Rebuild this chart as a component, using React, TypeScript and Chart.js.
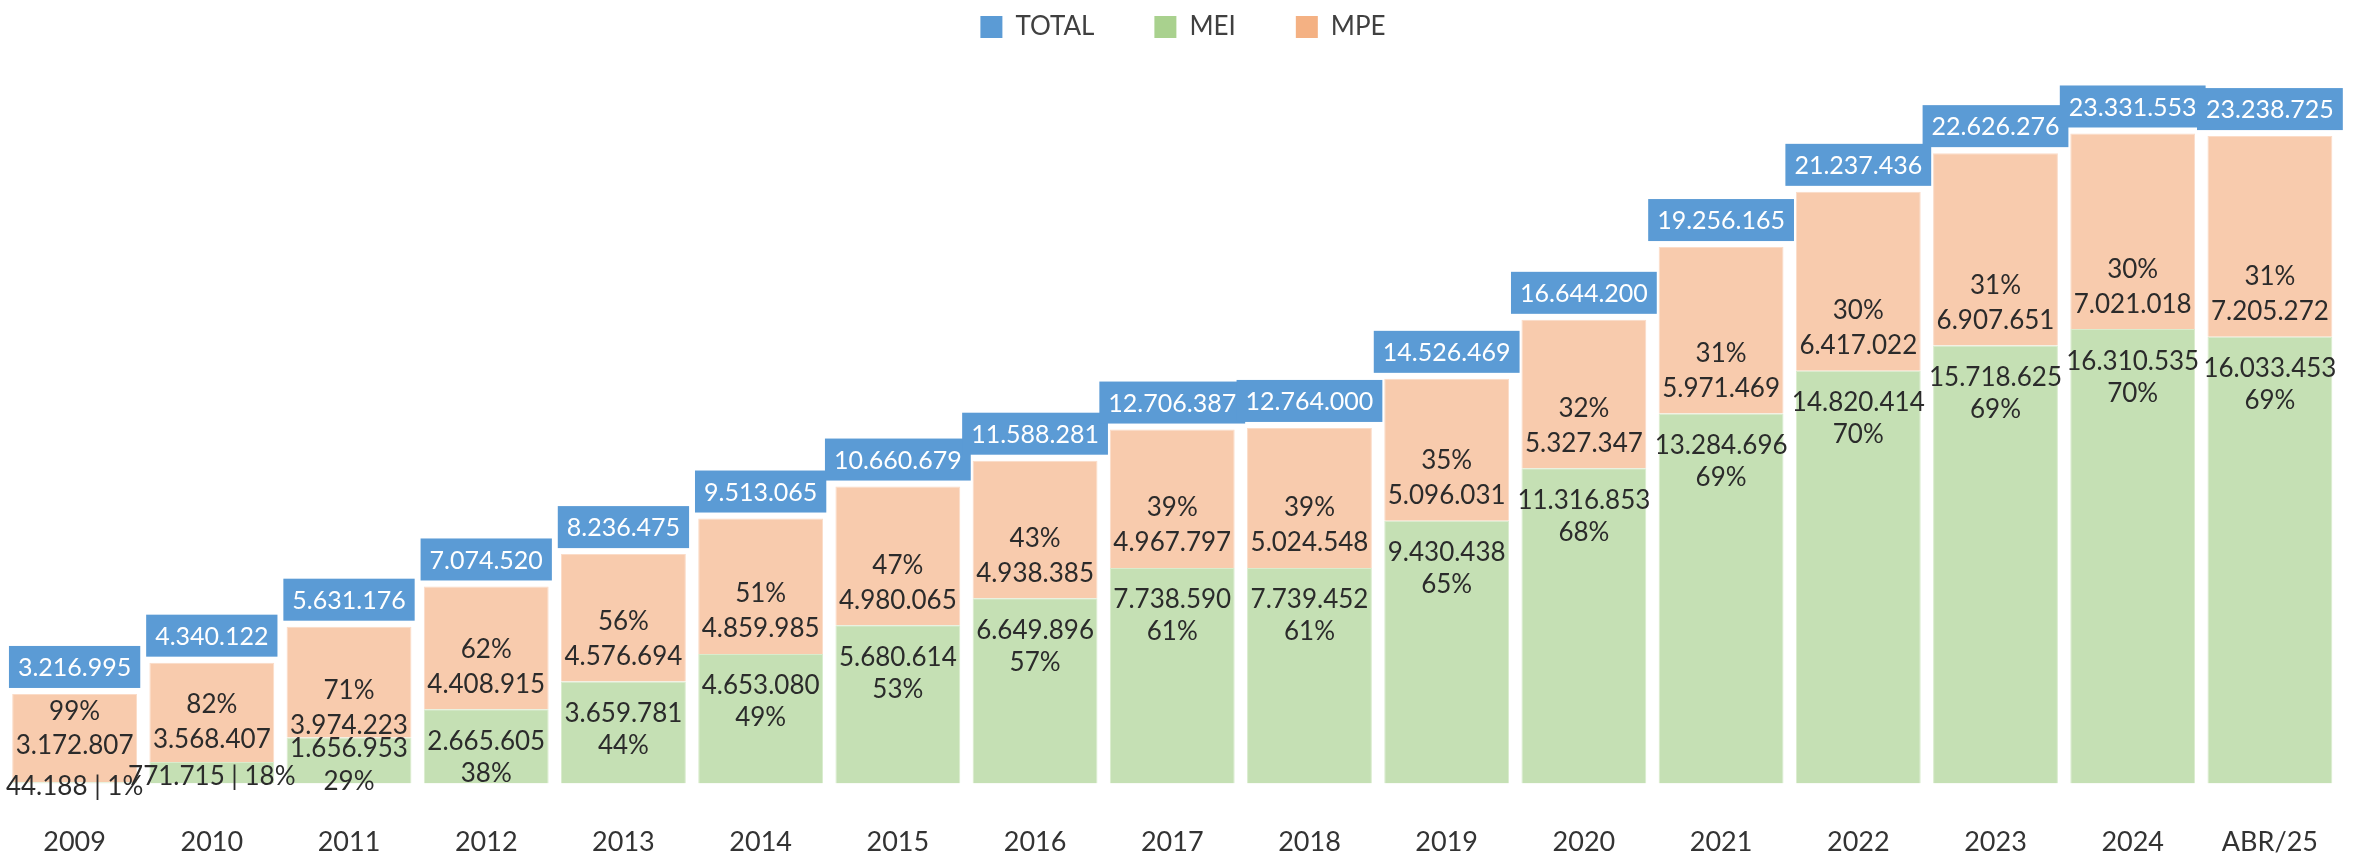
import React, { useEffect, useRef } from "react";
import { Chart, registerables } from "chart.js";

Chart.register(...registerables);

const categories = ["2009", "2010", "2011", "2012", "2013", "2014", "2015", "2016", "2017", "2018", "2019", "2020", "2021", "2022", "2023", "2024", "ABR/25"];
const meiValues = [44188, 771715, 1656953, 2665605, 3659781, 4653080, 5680614, 6649896, 7738590, 7739452, 9430438, 11316853, 13284696, 14820414, 15718625, 16310535, 16033453];
const mpeValues = [3172807, 3568407, 3974223, 4408915, 4576694, 4859985, 4980065, 4938385, 4967797, 5024548, 5096031, 5327347, 5971469, 6417022, 6907651, 7021018, 7205272];
const totalValues = [3216995, 4340122, 5631176, 7074520, 8236475, 9513065, 10660679, 11588281, 12706387, 12764000, 14526469, 16644200, 19256165, 21237436, 22626276, 23331553, 23238725];
const meiPct = [1, 18, 29, 38, 44, 49, 53, 57, 61, 61, 65, 68, 69, 70, 69, 70, 69];
const mpePct = [99, 82, 71, 62, 56, 51, 47, 43, 39, 39, 35, 32, 31, 30, 31, 30, 31];

const FONT = "Lato";
const TEXT = "#2b2b2b";
const BLUE = "#5B9BD5";
const LEGEND_COLORS = ["#5B9BD5", "#A9D18E", "#F4B183"];
const GREEN_BAR = "#C5E0B4";
const ORANGE_BAR = "#F8CBAD";

function fmt(n: number): string {
  const s = String(Math.round(n));
  let out = "";
  for (let i = 0; i < s.length; i++) {
    const rem = s.length - i;
    out += s[i];
    if (rem > 1 && rem % 3 === 1) out += ".";
  }
  return out;
}

const legendSpacing = {
  id: "legendSpacing",
  beforeInit(chart: any) {
    const legend = chart.legend;
    if (!legend) return;
    const origFit = legend.fit;
    legend.fit = function () {
      origFit.call(this);
      this.height = 133;
    };
  },
};

const labelsPlugin = {
  id: "barLabels",
  afterDatasetsDraw(chart: any) {
    const ctx = chart.ctx;
    const meiMeta = chart.getDatasetMeta(1);
    const mpeMeta = chart.getDatasetMeta(2);
    ctx.save();
    ctx.textAlign = "center";
    ctx.textBaseline = "middle";
    for (let i = 0; i < categories.length; i++) {
      const g = meiMeta.data[i];
      const o = mpeMeta.data[i];
      if (!g || !o) continue;
      const x = g.x;
      const bottom = g.base;
      const boundary = g.y;
      const top = o.y;
      const barW = g.width;
      const h = bottom - boundary;

      // total box
      ctx.font = `25px ${FONT}`;
      const tText = fmt(totalValues[i]);
      const tw = ctx.measureText(tText).width;
      const boxW = Math.max(barW, tw + 18);
      const boxH = 42;
      const boxBottom = top - 6;
      ctx.fillStyle = BLUE;
      ctx.fillRect(x - boxW / 2, boxBottom - boxH, boxW, boxH);
      ctx.fillStyle = "#ffffff";
      ctx.fillText(tText, x, boxBottom - boxH / 2 + 1);

      ctx.font = `26px ${FONT}`;
      ctx.fillStyle = TEXT;
      // MPE labels (percentage above value), near the lower end of the segment
      let o1 = -60, o2 = -25;
      if (h < 10) { o1 = -71; o2 = -37; }
      else if (h < 35) { o1 = -57; o2 = -22; }
      else if (h < 60) { o1 = -47; o2 = -12; }
      ctx.fillText(`${mpePct[i]}%`, x, boundary + o1);
      ctx.fillText(fmt(mpeValues[i]), x, boundary + o2);

      // MEI labels
      if (h < 35) {
        ctx.fillText(`${fmt(meiValues[i])} | ${meiPct[i]}%`, x, (boundary + bottom) / 2 + 4);
      } else if (h < 60) {
        const c = (boundary + bottom) / 2;
        ctx.fillText(fmt(meiValues[i]), x, c - 12);
        ctx.fillText(`${meiPct[i]}%`, x, c + 21);
      } else {
        ctx.fillText(fmt(meiValues[i]), x, boundary + 32);
        ctx.fillText(`${meiPct[i]}%`, x, boundary + 64);
      }
    }
    ctx.restore();
  },
};

export default function App() {
  const canvasRef = useRef<HTMLCanvasElement | null>(null);

  useEffect(() => {
    document.body.style.margin = "0";
    const canvas = canvasRef.current;
    if (!canvas) return;
    const chart = new Chart(canvas, {
      type: "bar",
      data: {
        labels: categories,
        datasets: [
          {
            label: "TOTAL",
            data: categories.map(() => null),
            backgroundColor: BLUE,
            stack: "s",
          },
          {
            label: "MEI",
            data: meiValues,
            backgroundColor: GREEN_BAR,
            borderColor: "#D9ECCD",
            borderWidth: 1,
            stack: "s",
          },
          {
            label: "MPE",
            data: mpeValues,
            backgroundColor: ORANGE_BAR,
            borderColor: "#FBDCC8",
            borderWidth: 1,
            stack: "s",
          },
        ],
      },
      options: {
        animation: false,
        responsive: true,
        maintainAspectRatio: false,
        layout: { padding: { left: 6, right: 0, top: -46, bottom: -40 } },
        datasets: {
          bar: { categoryPercentage: 1, barPercentage: 0.91 },
        },
        scales: {
          x: {
            stacked: true,
            grid: { display: false, drawTicks: false },
            border: { display: false },
            ticks: {
              color: "#333333",
              font: { family: FONT, size: 27 },
              padding: 42,
              maxRotation: 0,
              autoSkip: false,
            },
          },
          y: {
            stacked: true,
            display: false,
            min: 0,
            max: 25000000,
          },
        },
        plugins: {
          legend: {
            display: true,
            position: "top",
            labels: {
              boxWidth: 22,
              boxHeight: 22,
              padding: 60,
              color: "#404040",
              font: { family: FONT, size: 26 },
              generateLabels: (ch: any) =>
                ch.data.datasets.map((ds: any, i: number) => ({
                  text: ds.label,
                  fillStyle: LEGEND_COLORS[i],
                  strokeStyle: LEGEND_COLORS[i],
                  lineWidth: 0,
                  hidden: false,
                  datasetIndex: i,
                  fontColor: "#404040",
                })),
            },
          },
          tooltip: { enabled: false },
        },
      },
      plugins: [legendSpacing, labelsPlugin],
    });
    return () => chart.destroy();
  }, []);

  return (
    <div style={{ width: "2360px", height: "860px", position: "relative" }}>
      <canvas ref={canvasRef} style={{ display: "block" }} />
    </div>
  );
}
